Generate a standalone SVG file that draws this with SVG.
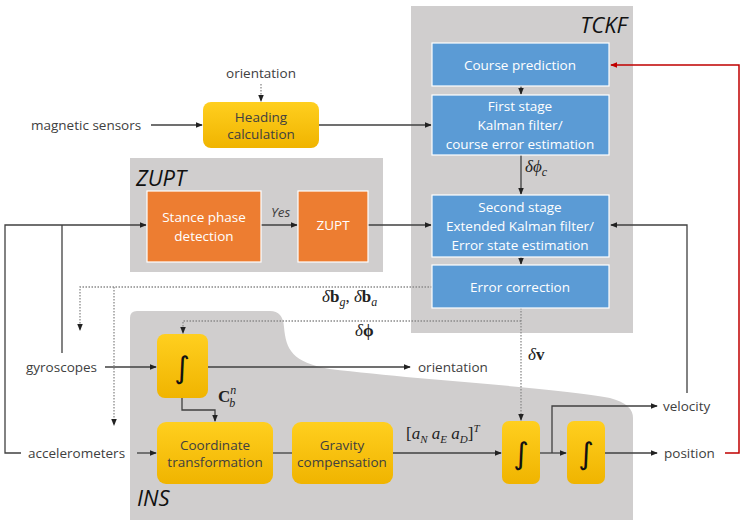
<svg xmlns="http://www.w3.org/2000/svg" width="744" height="527" viewBox="0 0 744 527">
<defs>
<linearGradient id="yg" x1="0" y1="0" x2="0" y2="1">
<stop offset="0" stop-color="#ffcf1f"/>
<stop offset="1" stop-color="#f0b400"/>
</linearGradient>
<marker id="ah" viewBox="0 0 8 8" refX="7" refY="4" markerWidth="7" markerHeight="7" markerUnits="userSpaceOnUse" orient="auto">
<path d="M0,0.8 L8,4 L0,7.2 Z" fill="#222"/>
</marker>
<marker id="ahr" viewBox="0 0 8 8" refX="7" refY="4" markerWidth="7" markerHeight="7" markerUnits="userSpaceOnUse" orient="auto">
<path d="M0,0.8 L8,4 L0,7.2 Z" fill="#c00000"/>
</marker>
</defs>
<style>
.grp{fill:#d0cece}
.blue{fill:#5b9bd5;stroke:#fff;stroke-width:1.2}
.orange{fill:#ed7d31;stroke:#fff;stroke-width:1.2}
.yel{fill:url(#yg)}
.wt{font-family:"Open Sans","Noto Sans",sans-serif;font-size:13.5px;fill:#fff;text-anchor:middle}
.dt{font-family:"Open Sans","Noto Sans",sans-serif;font-size:13.5px;fill:#404040;text-anchor:middle}
.lbl{font-family:"Open Sans","Noto Sans",sans-serif;font-size:13.5px;fill:#404040}
.title{font-family:"Open Sans","Noto Sans",sans-serif;font-size:22px;font-style:italic;fill:#111}
.math{font-family:"Liberation Serif","DejaVu Serif",serif;font-size:17px;fill:#222}
.int{font-family:"DejaVu Sans",sans-serif;font-size:30px;fill:#111;text-anchor:middle}
.ln{fill:none;stroke:#404040;stroke-width:1.3}
.dot{fill:none;stroke:#8a8a8a;stroke-width:1.3;stroke-dasharray:1.5 1.5}
.red{fill:none;stroke:#c00000;stroke-width:1.5}
</style>

<g id="tckf-group">
<rect class="grp" x="411" y="6" width="222" height="327"/>
<text class="title" x="627" y="33" text-anchor="end">TCKF</text>
</g>
<g id="zupt-group">
<rect class="grp" x="130" y="158" width="253" height="114"/>
<text class="title" x="136" y="186">ZUPT</text>
</g>
<g id="ins-group">
<path class="grp" d="M130,318 Q130,311 137,311 L270,311 Q283,311 284,327 C286,350 292,362 330,369 C420,380 560,388 610,398 Q633,404 633,418 L633,520 L130,520 Z"/>
<text class="title" x="137" y="506">INS</text>
</g>

<g id="connectors">
<path class="dot" d="M261,84 V101" marker-end="url(#ah)"/>
<path class="ln" d="M151,125 H202" marker-end="url(#ah)"/>
<path class="ln" d="M319,125 H431" marker-end="url(#ah)"/>
<path class="ln" d="M521,86 V94" marker-end="url(#ah)"/>
<path class="ln" d="M521,155 V194" marker-end="url(#ah)"/>
<path class="ln" d="M521,257 V264" marker-end="url(#ah)"/>
<path class="ln" d="M368,225 H431" marker-end="url(#ah)"/>
<path class="ln" d="M261,225 H297" marker-end="url(#ah)"/>
<path class="ln" d="M21,453 H5 V225 H146" marker-end="url(#ah)"/>
<path class="ln" d="M62,353 V225"/>
<path class="ln" d="M105,367 H156" marker-end="url(#ah)"/>
<path class="ln" d="M208,367 H410" marker-end="url(#ah)"/>
<path class="ln" d="M182,398 V410 H215 V421" marker-end="url(#ah)"/>
<path class="ln" d="M137,453 H156" marker-end="url(#ah)"/>
<path class="ln" d="M273,453 H292"/>
<path class="ln" d="M393,453 H501" marker-end="url(#ah)"/>
<path class="ln" d="M540,453 H566" marker-end="url(#ah)"/>
<path class="ln" d="M552,453 V406 H657" marker-end="url(#ah)"/>
<path class="ln" d="M605,453 H657" marker-end="url(#ah)"/>
<path class="ln" d="M687,393 V225 H611" marker-end="url(#ah)"/>
<path class="red" d="M725,453 H739 V65 H611" marker-end="url(#ahr)"/>
<path class="dot" d="M432,287 H80 V330" marker-end="url(#ah)"/>
<path class="dot" d="M114,287 V425" marker-end="url(#ah)"/>
<path class="dot" d="M521,308 V420" marker-end="url(#ah)"/>
<path class="dot" d="M521,321 H183 V333" marker-end="url(#ah)"/>
</g>

<g id="orientation-in"><text class="dt" x="261" y="78">orientation</text></g>
<g id="magnetic-sensors"><text class="lbl" x="31" y="130">magnetic sensors</text></g>
<g id="gyroscopes"><text class="lbl" x="26" y="372">gyroscopes</text></g>
<g id="accelerometers"><text class="lbl" x="28" y="458">accelerometers</text></g>
<g id="orientation-out"><text class="lbl" x="418" y="372">orientation</text></g>
<g id="velocity"><text class="lbl" x="663" y="411">velocity</text></g>
<g id="position"><text class="lbl" x="664" y="458">position</text></g>

<g id="heading">
<rect class="yel" x="203" y="102" width="116" height="46" rx="8"/>
<text class="dt" x="261" y="122">Heading</text>
<text class="dt" x="261" y="139">calculation</text>
</g>
<g id="course-prediction">
<rect class="blue" x="432" y="43" width="177" height="43"/>
<text class="wt" x="520" y="70">Course prediction</text>
</g>
<g id="first-stage">
<rect class="blue" x="432" y="95" width="177" height="60"/>
<text class="wt" x="520" y="111">First stage</text>
<text class="wt" x="520" y="130">Kalman filter/</text>
<text class="wt" x="520" y="149">course error estimation</text>
</g>
<g id="second-stage">
<rect class="blue" x="432" y="195" width="177" height="62"/>
<text class="wt" x="520" y="212">Second stage</text>
<text class="wt" x="520" y="231">Extended Kalman filter/</text>
<text class="wt" x="520" y="250">Error state estimation</text>
</g>
<g id="error-correction">
<rect class="blue" x="432" y="265" width="177" height="43"/>
<text class="wt" x="520" y="292">Error correction</text>
</g>
<g id="stance">
<rect class="orange" x="147" y="191" width="114" height="71"/>
<text class="wt" x="204" y="222">Stance phase</text>
<text class="wt" x="204" y="241">detection</text>
</g>
<g id="zupt">
<rect class="orange" x="298" y="191" width="70" height="71"/>
<text class="wt" x="333" y="230">ZUPT</text>
</g>
<g id="integrator-1">
<rect class="yel" x="157" y="334" width="51" height="64" rx="8"/>
<text class="int" x="182" y="378">∫</text>
</g>
<g id="coord-transform">
<rect class="yel" x="157" y="422" width="116" height="62" rx="9"/>
<text class="dt" x="215" y="450">Coordinate</text>
<text class="dt" x="215" y="467">transformation</text>
</g>
<g id="gravity">
<rect class="yel" x="292" y="422" width="101" height="62" rx="9"/>
<text class="dt" x="342" y="450">Gravity</text>
<text class="dt" x="342" y="467">compensation</text>
</g>
<g id="integrator-2">
<rect class="yel" x="502" y="421" width="38" height="63" rx="7"/>
<text class="int" x="521" y="464">∫</text>
</g>
<g id="integrator-3">
<rect class="yel" x="567" y="421" width="38" height="63" rx="7"/>
<text class="int" x="586" y="464">∫</text>
</g>

<g id="labels">
<text class="lbl" x="271" y="217" font-style="italic" font-size="12">Yes</text>
<text class="math" x="525" y="172"><tspan font-style="italic">δϕ</tspan><tspan font-style="italic" font-size="12" dy="4">c</tspan></text>
<text class="math" x="322" y="302"><tspan font-style="italic">δ</tspan><tspan font-weight="bold">b</tspan><tspan font-style="italic" font-size="12" dy="4">g</tspan><tspan dy="-4">, </tspan><tspan font-style="italic">δ</tspan><tspan font-weight="bold">b</tspan><tspan font-style="italic" font-size="12" dy="4">a</tspan></text>
<text class="math" x="355" y="336"><tspan font-style="italic">δ</tspan><tspan font-weight="bold">ϕ</tspan></text>
<text class="math" x="528" y="360"><tspan font-style="italic">δ</tspan><tspan font-weight="bold">v</tspan></text>
<text class="math" x="218" y="402"><tspan font-weight="bold">C</tspan><tspan font-style="italic" font-size="12" dy="-8">n</tspan><tspan font-style="italic" font-size="12" dx="-7" dy="13">b</tspan></text>
<text class="math" x="406" y="439">[<tspan font-style="italic">a</tspan><tspan font-style="italic" font-size="11" dy="4">N</tspan><tspan dy="-4"> </tspan><tspan font-style="italic">a</tspan><tspan font-style="italic" font-size="11" dy="4">E</tspan><tspan dy="-4"> </tspan><tspan font-style="italic">a</tspan><tspan font-style="italic" font-size="11" dy="4">D</tspan><tspan dy="-4">]</tspan><tspan font-style="italic" font-size="11" dy="-7">T</tspan></text>
</g>
</svg>
